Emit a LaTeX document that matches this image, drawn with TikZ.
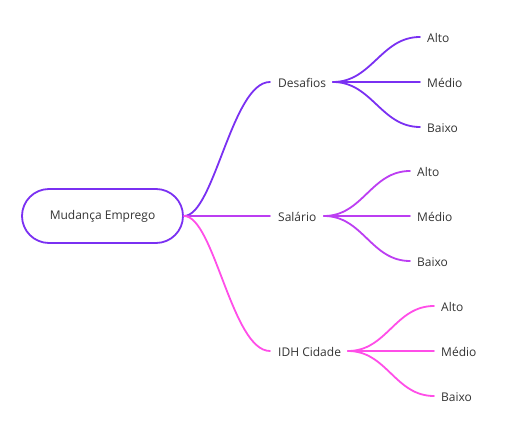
\documentclass[tikz,border=0pt]{standalone}
\usepackage{fontspec}
\setmainfont{Open Sans}
\definecolor{cA}{RGB}{122,48,242}
\definecolor{cB}{RGB}{188,62,242}
\definecolor{cC}{RGB}{255,78,232}
\definecolor{txt}{RGB}{51,51,51}
\begin{document}
\begin{tikzpicture}[x=1pt,y=-1pt,
  lbl/.style={anchor=west,inner sep=0pt,text=txt,font=\fontsize{12}{14}\selectfont,yshift=-0.7pt},
  br/.style={line width=1.8pt,line cap=round}]
\useasboundingbox (0,0) rectangle (511,430);
\node[draw=cA,line width=1.8pt,rounded corners=27pt,minimum width=161pt,minimum height=54pt,text=txt,font=\fontsize{12}{14}\selectfont] (root) at (102.5,216) {Mudança Emprego};
% level-1 labels
\node[lbl] (d) at (278,82) {Desafios};
\node[lbl] (s) at (278,216) {Salário};
\node[lbl] (i) at (278,351) {IDH Cidade};
\coordinate (r0) at (184,216);
\coordinate (dL) at (270,82);
\coordinate (sL) at (270,216);
\coordinate (iL) at (270,351);
\draw[br,cA] (r0) .. controls (214,216) and (232,82) .. (dL);
\draw[br,cB] (r0) -- (sL);
\draw[br,cC] (r0) .. controls (214,216) and (232,351) .. (iL);
% Desafios children
\coordinate (dR) at (333,82);
\node[lbl] (d1) at (427,37) {Alto};
\node[lbl] (d2) at (427,82) {Médio};
\node[lbl] (d3) at (427,127) {Baixo};
\coordinate (d1L) at (420,37);
\coordinate (d2L) at (420,82);
\coordinate (d3L) at (420,127);
\draw[br,cA] (dR) .. controls (372,82) and (381,37) .. (d1L);
\draw[br,cA] (dR) -- (d2L);
\draw[br,cA] (dR) .. controls (372,82) and (381,127) .. (d3L);
% Salario children
\coordinate (sR) at (324,216);
\node[lbl] (s1) at (417,171) {Alto};
\node[lbl] (s2) at (417,216) {Médio};
\node[lbl] (s3) at (417,261) {Baixo};
\coordinate (s1L) at (410,171);
\coordinate (s2L) at (410,216);
\coordinate (s3L) at (410,261);
\draw[br,cB] (sR) .. controls (363,216) and (371,171) .. (s1L);
\draw[br,cB] (sR) -- (s2L);
\draw[br,cB] (sR) .. controls (363,216) and (371,261) .. (s3L);
% IDH children
\coordinate (iR) at (348,351);
\node[lbl] (i1) at (441,306) {Alto};
\node[lbl] (i2) at (441,351) {Médio};
\node[lbl] (i3) at (441,396) {Baixo};
\coordinate (i1L) at (434,306);
\coordinate (i2L) at (434,351);
\coordinate (i3L) at (434,396);
\draw[br,cC] (iR) .. controls (387,351) and (395,306) .. (i1L);
\draw[br,cC] (iR) -- (i2L);
\draw[br,cC] (iR) .. controls (387,351) and (395,396) .. (i3L);
\end{tikzpicture}
\end{document}
